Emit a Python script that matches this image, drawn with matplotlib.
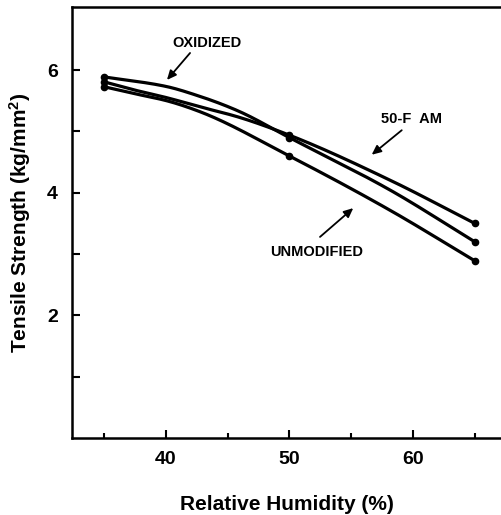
import numpy as np
import matplotlib
matplotlib.use("Agg")
import matplotlib.pyplot as plt

plt.rcParams["font.family"] = "Liberation Sans"
plt.rcParams["mathtext.fontset"] = "custom"
plt.rcParams["mathtext.rm"] = "Liberation Sans:bold"
plt.rcParams["mathtext.default"] = "rm"

# measured points (markers) at 35, 50, 65 % RH
rh = [35, 50, 65]
oxidized = [5.89, 4.90, 3.20]
fam50 = [5.81, 4.94, 3.50]
unmodified = [5.73, 4.60, 2.89]

# points
ox_trace_x = [35, 39.9, 42.8, 45.8, 50, 58.1, 65]
ox_trace_y = [5.89, 5.74, 5.57, 5.34, 4.90, 4.05, 3.20]
fam_trace_x = [35, 37.4, 40.1, 42.8, 45.8, 50, 58.1, 65]
fam_trace_y = [5.81, 5.68, 5.55, 5.40, 5.24, 4.94, 4.21, 3.50]
un_trace_x = [35, 37.4, 40.1, 42.8, 50, 58.1, 65]
un_trace_y = [5.73, 5.62, 5.50, 5.32, 4.60, 3.72, 2.89]


def pchip(x, y, xs):
    # monotone cubic through the traced points, just for a smooth pen line
    x = np.asarray(x, float)
    y = np.asarray(y, float)
    h = np.diff(x)
    d = np.diff(y) / h
    m = np.zeros_like(y)
    m[0], m[-1] = d[0], d[-1]
    for k in range(1, len(x) - 1):
        if d[k - 1] * d[k] > 0:
            w1 = 2 * h[k] + h[k - 1]
            w2 = h[k] + 2 * h[k - 1]
            m[k] = (w1 + w2) / (w1 / d[k - 1] + w2 / d[k])
    i = np.clip(np.searchsorted(x, xs) - 1, 0, len(h) - 1)
    t = (xs - x[i]) / h[i]
    return ((2 * t**3 - 3 * t**2 + 1) * y[i] + (t**3 - 2 * t**2 + t) * h[i] * m[i]
            + (-2 * t**3 + 3 * t**2) * y[i + 1] + (t**3 - t**2) * h[i] * m[i + 1])


fig = plt.figure(figsize=(5.02, 5.15), dpi=100)
ax = fig.add_axes([0.1434, 0.1495, 0.8566, 0.8369])

for tx, ty, my in [(ox_trace_x, ox_trace_y, oxidized),
                   (fam_trace_x, fam_trace_y, fam50),
                   (un_trace_x, un_trace_y, unmodified)]:
    xs = np.linspace(tx[0], tx[-1], 300)
    ax.plot(xs, pchip(tx, ty, xs), color="black", lw=2.3, solid_capstyle="round")
    ax.plot(rh, my, "o", color="black", ms=4.5)

arrow = dict(arrowstyle="-|>,head_length=0.55,head_width=0.25", color="black", lw=1.3,
             shrinkA=0, shrinkB=0)
ax.text(43.35, 6.44, "OXIDIZED", ha="center", va="center", fontsize=10.5, fontweight="bold")
ax.annotate("", xy=(40.1, 5.84), xytext=(41.97, 6.28), arrowprops=arrow)
ax.text(59.85, 5.20, "50-F  AM", ha="center", va="center", fontsize=10.5, fontweight="bold")
ax.annotate("", xy=(56.66, 4.62), xytext=(59.09, 5.02), arrowprops=arrow)
ax.text(52.19, 3.03, "UNMODIFIED", ha="center", va="center", fontsize=10.5, fontweight="bold")
ax.annotate("", xy=(55.17, 3.75), xytext=(52.48, 3.28), arrowprops=arrow)

ax.set_xlim(32.42, 67.2)
ax.set_ylim(0, 7.03)
ax.set_xticks([40, 50, 60])
ax.set_xticks([35, 45, 55, 65], minor=True)
ax.set_yticks([2, 4, 6])
ax.set_yticks([1, 3, 5], minor=True)
ax.tick_params(axis="both", which="both", direction="in", width=1.5)
ax.tick_params(axis="x", which="major", length=6, pad=9, labelsize=14)
ax.tick_params(axis="x", which="minor", length=3.5)
ax.tick_params(axis="y", which="both", length=6, pad=10, labelsize=14)
for lab in ax.get_xticklabels() + ax.get_yticklabels():
    lab.set_fontweight("bold")

ax.spines["right"].set_visible(False)
for s in ["left", "bottom", "top"]:
    ax.spines[s].set_linewidth(1.8)

ax.set_xlabel("Relative Humidity (%)", fontsize=15, fontweight="bold", labelpad=20)
ax.set_ylabel("Tensile Strength (kg/mm$^2$)", fontsize=15, fontweight="bold", labelpad=10)

fig.savefig("out.png", dpi=100)
